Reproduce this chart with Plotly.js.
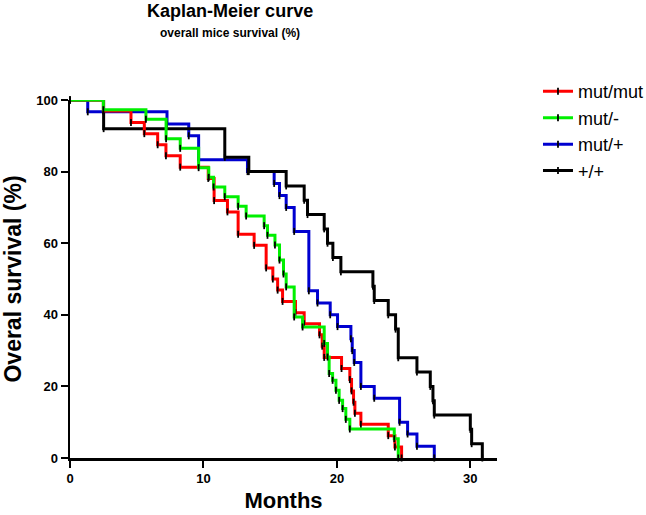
<!DOCTYPE html>
<html><head><meta charset="utf-8">
<script src="https://cdn.plot.ly/plotly-3.0.1.min.js"></script>
<style>html,body{margin:0;padding:0;background:#fff}#chart{width:646px;height:515px}</style>
</head><body><div id="chart"></div>
<script>
// Kaplan-Meier step data (months, % surviving)
const groupNames = ['mut/mut', 'mut/-', 'mut/+', '+/+'];

const mutMutMonths = [0, 2.5, 4.57, 5.57, 6.57, 7.19, 8.26, 10.36, 10.8, 11.8, 12.6, 13.8, 14.7, 15.2, 15.56, 15.93, 16.9, 17.55, 18.7, 18.9, 19.05, 20.35, 20.97, 21.1, 21.25, 21.35, 21.8, 23.85, 24.35, 24.85];
const mutMutSurv   = [100, 96.9, 93.75, 90.6, 87.5, 84.4, 81.25, 78.1, 71.9, 68.75, 62.5, 59.4, 53.1, 50, 46.9, 43.75, 40.6, 37.5, 34.4, 31.25, 28.1, 25, 21.9, 18.75, 15.6, 12.5, 9.4, 6.25, 3.1, 0];

const mutNullMonths = [0, 2.5, 5.69, 7.2, 8.26, 9.64, 10.4, 10.76, 11.6, 12.6, 13.2, 14.55, 14.8, 15.36, 15.7, 16.0, 16.2, 16.8, 17.43, 19.05, 19.3, 19.42, 19.68, 19.93, 20.17, 20.43, 20.67, 20.97, 24.3, 24.6];
const mutNullSurv   = [100, 97.3, 94.6, 89.2, 86.5, 81.1, 78.4, 75.7, 73.0, 70.3, 67.6, 64.9, 62.2, 59.5, 55.3, 51.4, 47.8, 39.4, 36.6, 32.0, 28.2, 23.6, 21.7, 18.9, 16.1, 13.8, 10.8, 8.1, 5.4, 0];

const mutWtMonths = [0, 1.33, 7.27, 8.9, 9.64, 13.3, 15.3, 15.7, 16.2, 16.8, 17.9, 18.55, 19.5, 20.05, 21.05, 21.15, 21.3, 21.8, 22.8, 24.7, 25.3, 26.0, 27.3];
const mutWtSurv   = [100, 96.7, 93.3, 90, 83.3, 80, 76.7, 73.3, 70, 63.3, 46.7, 43.3, 40, 36.7, 33.3, 30, 26.7, 20, 16.7, 10, 6.7, 3.3, 0];

const wtWtMonths = [0, 2.52, 11.6, 13.4, 16.2, 17.55, 17.8, 19.05, 19.3, 19.7, 20.3, 22.7, 22.8, 23.85, 24.4, 24.6, 26.0, 27.0, 27.2, 27.3, 30.0, 30.1, 30.9];
const wtWtSurv   = [100, 92, 84, 80, 76, 72, 68, 64, 60, 56, 52, 48, 44, 40, 36, 28, 24, 20, 16, 12, 8, 4, 0];

const xTickVals = [0, 10, 20, 30];
const yTickVals = [0, 20, 40, 60, 80, 100];

const FONT = 'Liberation Sans, Arial, Helvetica, sans-serif';

function kmTrace(name, x, y, color, rank) {
  return {
    type: 'scatter', mode: 'lines+markers', name: name, x: x, y: y,
    line: {shape: 'hv', color: color, width: 3},
    marker: {symbol: 'line-ns', size: 5, color: '#000', line: {color: '#000', width: 1.8}},
    legendrank: rank, cliponaxis: false, hoverinfo: 'x+y+name'
  };
}

const data = [
  kmTrace(groupNames[2], mutWtMonths, mutWtSurv, '#0000d0', 3),
  kmTrace(groupNames[3], wtWtMonths, wtWtSurv, '#000000', 4),
  kmTrace(groupNames[0], mutMutMonths, mutMutSurv, '#ff0000', 1),
  kmTrace(groupNames[1], mutNullMonths, mutNullSurv, '#00f000', 2)
];

const layout = {
  width: 646, height: 515,
  margin: {l: 70, r: 149, t: 100, b: 57, pad: 0, autoexpand: false},
  paper_bgcolor: '#fff', plot_bgcolor: '#fff',
  font: {family: FONT, color: '#000'},
  title: {
    text: '<b>Kaplan-Meier curve</b>',
    font: {family: FONT, size: 18, color: '#000'},
    xref: 'paper', x: 0.375, xanchor: 'center',
    yref: 'container', y: 0.992, yanchor: 'top'
  },
  annotations: [{
    text: '<b>overall mice survival (%)</b>',
    xref: 'paper', yref: 'paper', x: 0.375, y: 1 + (100 - 33) / 358,
    xanchor: 'center', yanchor: 'middle', showarrow: false,
    font: {family: FONT, size: 12, color: '#000'}
  }],
  xaxis: {
    range: [0, 32], tickvals: xTickVals, ticktext: xTickVals.map(String),
    showline: true, linecolor: '#000', linewidth: 2.5,
    ticks: 'outside', ticklen: 7, tickwidth: 2, tickcolor: '#000',
    showgrid: false, zeroline: false,
    tickfont: {family: FONT, size: 13, color: '#000', weight: 'bold'},
    title: {text: '<b>Months</b>', font: {family: FONT, size: 22, color: '#000'}, standoff: 8}
  },
  yaxis: {
    range: [0, 100], tickvals: yTickVals, ticktext: yTickVals.map(String),
    showline: true, linecolor: '#000', linewidth: 2.5,
    ticks: 'outside', ticklen: 7, tickwidth: 2, tickcolor: '#000',
    showgrid: false, zeroline: false,
    tickfont: {family: FONT, size: 13, color: '#000', weight: 'bold'},
    title: {text: '<b>Overal survival (%)</b>', font: {family: FONT, size: 23, color: '#000'}, standoff: 10}
  },
  showlegend: true,
  legend: {
    x: 1.096, xanchor: 'left', y: 1.075, yanchor: 'top',
    font: {family: FONT, size: 18, color: '#000'},
    bgcolor: 'rgba(0,0,0,0)', borderwidth: 0, traceorder: 'normal', tracegroupgap: 0
  }
};

Plotly.newPlot('chart', data, layout, {displayModeBar: false, staticPlot: true});
</script>
</body></html>
